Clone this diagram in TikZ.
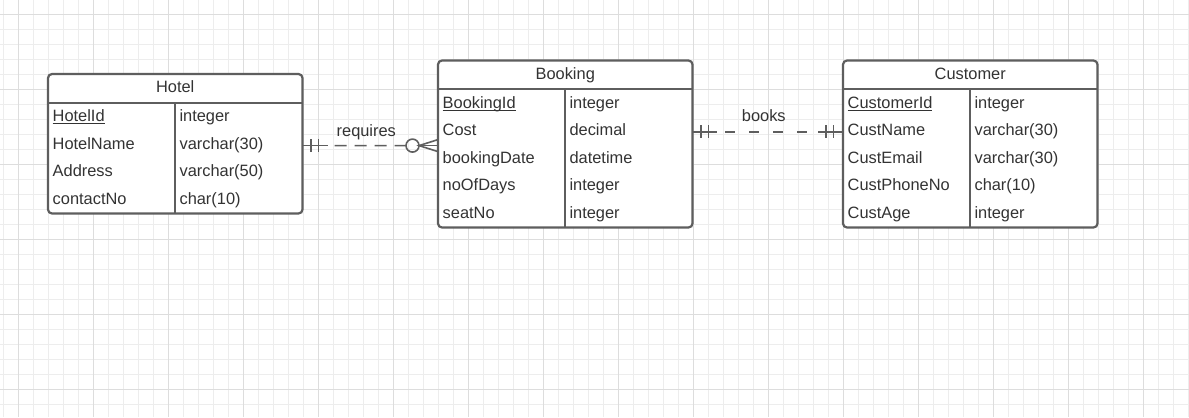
\documentclass[tikz,border=0pt]{standalone}
\usepackage{fontspec}
\setmainfont{Liberation Sans}
\usetikzlibrary{calc}
\definecolor{gridminor}{HTML}{EDEDED}
\definecolor{gridmajor}{HTML}{DDDDDD}
\definecolor{edge}{HTML}{5E5E5E}
\definecolor{ink}{HTML}{333333}
\tikzset{
  minorline/.style={draw=gridminor, line width=1bp},
  majorline/.style={draw=gridmajor, line width=1bp},
  entity/.style={draw=edge, line width=2.2bp, rounded corners=4bp, inner sep=0pt, outer sep=0pt, anchor=north west},
  sepline/.style={draw=edge, line width=2.2bp},
  lbl/.style={text=ink, inner sep=0pt, outer sep=0pt, anchor=base west, font=\fontsize{16.4bp}{19bp}\selectfont},
  title/.style={lbl, anchor=base},
  keyline/.style={draw=ink, line width=1.2bp},
  conn/.style={draw=edge, line width=1.6bp},
  reqdash/.style={dash pattern=on 12bp off 8bp},
  bookdash/.style={dash pattern=on 10bp off 14bp, dash phase=15.7bp},
}
\begin{document}
\begin{tikzpicture}[x=1bp, y=-1bp]
\useasboundingbox (0,0) rectangle (1189,417);
\fill[white] (0,0) rectangle (1189,417);
% grid
\foreach \i in {0,...,79} \draw[minorline] ({3.3+15*\i},0) -- ({3.3+15*\i},417);
\foreach \j in {1,...,27} \draw[minorline] (0,{-0.7+15*\j}) -- (1189,{-0.7+15*\j});
\foreach \i in {0,...,15} \draw[majorline] ({18.3+75*\i},0) -- ({18.3+75*\i},417);
\foreach \j in {0,...,5} \draw[majorline] (0,{14.3+75*\j}) -- (1189,{14.3+75*\j});

% Hotel
\node[entity, fill=white, minimum width=254.5bp, minimum height=139.5bp] (hotel) at (48,74) {};
\draw[sepline] ($(hotel.north west)+(0,29.3)$) -- ($(hotel.north east)+(0,29.3)$);
\draw[sepline] ($(hotel.north)+(0,29.3)$) -- (hotel.south);
\node[title] (hotelT) at ($(hotel.north)+(0,18.3)$) {Hotel};
\foreach \a/\t [count=\i] in {HotelId/integer, HotelName/{varchar(30)}, Address/{varchar(50)}, contactNo/{char(10)}}{
  \node[lbl] (hotelA\i) at ($(hotel.north west)+(4.7,{47.6+27.5*(\i-1)})$) {\a};
  \node[lbl] (hotelB\i) at ($(hotel.north)+(4.3,{47.6+27.5*(\i-1)})$) {\t};
}
\draw[keyline] ([yshift=-1.8bp]hotelA1.base west) -- ([yshift=-1.8bp]hotelA1.base east);

% Booking
\node[entity, fill=white, minimum width=254.5bp, minimum height=167bp] (booking) at (438,60.5) {};
\draw[sepline] ($(booking.north west)+(0,28.8)$) -- ($(booking.north east)+(0,28.8)$);
\draw[sepline] ($(booking.north)+(0,28.8)$) -- (booking.south);
\node[title] (bookingT) at ($(booking.north)+(0,18.5)$) {Booking};
\foreach \a/\t [count=\i] in {BookingId/integer, Cost/decimal, bookingDate/datetime, noOfDays/integer, seatNo/integer}{
  \node[lbl] (bookingA\i) at ($(booking.north west)+(4.7,{47.8+27.5*(\i-1)})$) {\a};
  \node[lbl] (bookingB\i) at ($(booking.north)+(4.3,{47.8+27.5*(\i-1)})$) {\t};
}
\draw[keyline] ([yshift=-1.8bp]bookingA1.base west) -- ([yshift=-1.8bp]bookingA1.base east);

% Customer
\node[entity, fill=white, minimum width=254.5bp, minimum height=167bp] (customer) at (843,60.5) {};
\draw[sepline] ($(customer.north west)+(0,28.8)$) -- ($(customer.north east)+(0,28.8)$);
\draw[sepline] ($(customer.north)+(0,28.8)$) -- (customer.south);
\node[title] (customerT) at ($(customer.north)+(0,18.5)$) {Customer};
\foreach \a/\t [count=\i] in {CustomerId/integer, CustName/{varchar(30)}, CustEmail/{varchar(30)}, CustPhoneNo/{char(10)}, CustAge/integer}{
  \node[lbl] (customerA\i) at ($(customer.north west)+(4.7,{47.8+27.5*(\i-1)})$) {\a};
  \node[lbl] (customerB\i) at ($(customer.north)+(4.3,{47.8+27.5*(\i-1)})$) {\t};
}
\draw[keyline] ([yshift=-1.8bp]customerA1.base west) -- ([yshift=-1.8bp]customerA1.base east);

% requires: Hotel (one and only one) -- Booking (zero or many)
\coordinate (r1) at ([yshift=-1.85bp]hotel.east);
\coordinate (r2) at ([yshift=-1.6bp]booking.west);
\draw[conn] (r1) -- ($(r1)+(25,0)$);
\draw[conn, reqdash] ($(r1)+(32,0)$) -- ($(r2)+(-32,0)$);
\draw[conn] ($(r1)+(8.5,-6.5)$) -- ($(r1)+(8.5,6.5)$);
\draw[conn] ($(r1)+(16,-6.5)$) -- ($(r1)+(16,6.5)$);
\draw[conn] ($(r2)+(-25.5,0)$) circle[radius=6.5bp];
\draw[conn] ($(r2)+(-19,0)$) -- (r2);
\draw[conn] ($(r2)+(0,-6)$) -- ($(r2)+(-19,0)$) -- ($(r2)+(0,6)$);
\node[title] (reqL) at (366.3,136.7) {requires};

% books: Booking (one and only one) -- Customer (one and only one)
\coordinate (k1) at ([yshift=12.3bp]booking.east);
\coordinate (k2) at ([yshift=12.3bp]customer.west);
\draw[conn] (k1) -- ($(k1)+(24.2,0)$);
\draw[conn, bookdash] ($(k1)+(24.2,0)$) -- ($(k2)+(-24.7,0)$);
\draw[conn] ($(k2)+(-24.7,0)$) -- (k2);
\draw[conn] ($(k1)+(8.2,-6.5)$) -- ($(k1)+(8.2,6.5)$);
\draw[conn] ($(k1)+(15.8,-6.5)$) -- ($(k1)+(15.8,6.5)$);
\draw[conn] ($(k2)+(-17.3,-6.5)$) -- ($(k2)+(-17.3,6.5)$);
\draw[conn] ($(k2)+(-9.7,-6.5)$) -- ($(k2)+(-9.7,6.5)$);
\node[title] (booksL) at (763.8,121.7) {books};
\end{tikzpicture}
\end{document}
